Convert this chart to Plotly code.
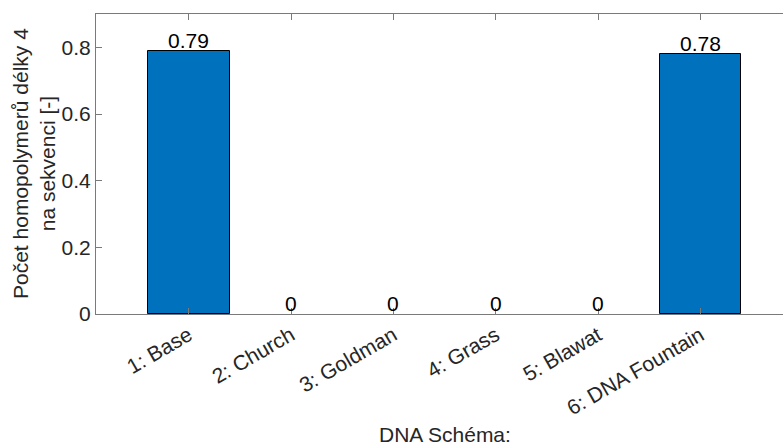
import plotly.graph_objects as go

categories = ["1: Base", "2: Church", "3: Goldman", "4: Grass", "5: Blawat", "6: DNA Fountain"]
values = [0.79, 0, 0, 0, 0, 0.78]
positions = [1, 2, 3, 4, 5, 6]
y_ticks = [0, 0.2, 0.4, 0.6, 0.8]
y_ticklabels = ["0", "0.2", "0.4", "0.6", "0.8"]
x_title = "DNA Schéma:"
y_title = "Počet homopolymerů délky 4<br>na sekvenci [-]"

FONT = "Liberation Sans, Arial, sans-serif"
AXC = "#7a7a7a"
TXT = "#262626"
FS = 21

fig = go.Figure()
fig.add_trace(go.Bar(
    x=positions, y=values, width=0.8,
    marker=dict(color="#0072BD",
                line=dict(color="black", width=[1 if v > 0 else 0 for v in values])),
    showlegend=False, hoverinfo="skip",
))

annotations = []
for xp, v in zip(positions, values):
    annotations.append(dict(
        x=xp, y=v, xref="x", yref="y", text=f"{v:g}", showarrow=False,
        yanchor="bottom", xanchor="center", yshift=-3,
        font=dict(family=FONT, size=FS, color="black"),
    ))
annotations.append(dict(
    x=3.5, y=0, xref="x", yref="paper", text=x_title, showarrow=False,
    yanchor="middle", xanchor="center", yshift=-120, borderpad=0,
    font=dict(family=FONT, size=FS, color=TXT),
))
annotations.append(dict(
    x=0, y=0.5, xref="paper", yref="paper", text=y_title, showarrow=False,
    xanchor="center", yanchor="middle", xshift=-62, textangle=-90,
    font=dict(family=FONT, size=FS, color=TXT),
))

fig.update_layout(
    width=783, height=447,
    margin=dict(l=96, r=0, t=14, b=133, autoexpand=False),
    plot_bgcolor="white", paper_bgcolor="white",
    font=dict(family=FONT, size=FS, color=TXT),
    annotations=annotations,
    bargap=0,
)
fig.update_xaxes(
    range=[0.094, 6.806], tickmode="array", tickvals=positions, ticktext=categories,
    tickangle=-30, ticks="inside", ticklen=6, tickcolor=AXC, automargin=False,
    showline=True, linecolor=AXC, linewidth=1, mirror="ticks",
    showgrid=False, zeroline=False, tickfont=dict(family=FONT, size=FS, color=TXT),
)
fig.update_yaxes(
    range=[0, 0.9], tickmode="array", tickvals=y_ticks, ticktext=y_ticklabels,
    ticks="inside", ticklen=6, tickcolor=AXC, automargin=False,
    showline=True, linecolor=AXC, linewidth=1, mirror=False,
    showgrid=False, zeroline=False, tickfont=dict(family=FONT, size=FS, color=TXT),
)

fig.write_html(
    "out.html",
    config={"displayModeBar": False},
    post_script="document.body.style.margin='0';document.body.style.overflow='hidden';",
)
